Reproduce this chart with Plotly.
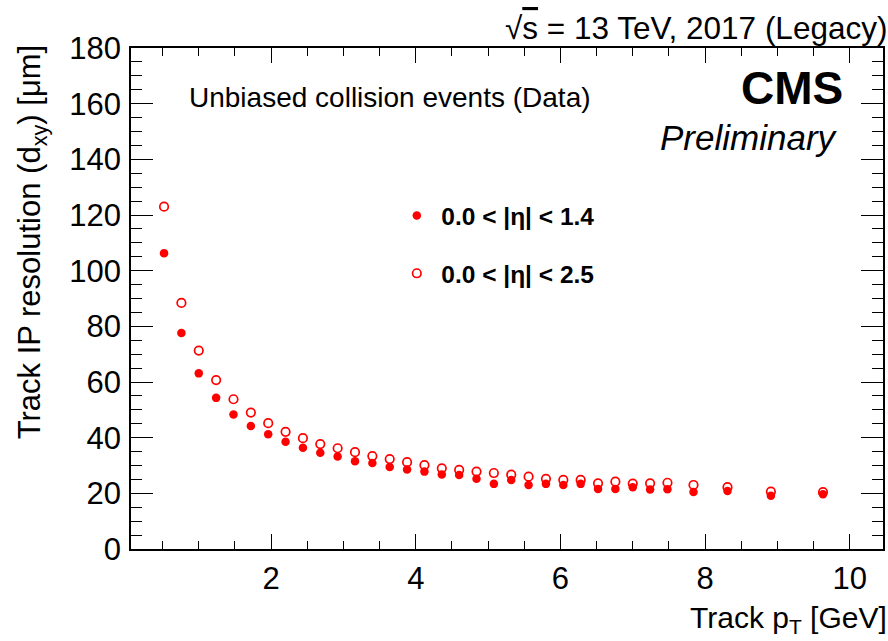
import plotly.graph_objects as go

# ---- data ----
pt = [0.52, 0.76, 1.00, 1.24, 1.48, 1.72, 1.96, 2.20, 2.44, 2.68, 2.92, 3.16, 3.40,
      3.64, 3.88, 4.12, 4.36, 4.60, 4.84, 5.08, 5.32, 5.56, 5.80, 6.04, 6.28, 6.52,
      6.76, 7.00, 7.24, 7.48, 7.84, 8.31, 8.91, 9.63]
res_eta14 = [106.3, 77.6, 63.1, 54.3, 48.3, 44.2, 41.2, 38.5, 36.4, 34.6, 33.2, 31.5,
             30.9, 29.5, 28.6, 27.8, 26.8, 26.6, 25.2, 23.4, 24.8, 23.0, 23.4, 23.0,
             23.4, 21.6, 21.6, 22.2, 21.4, 21.5, 20.5, 20.8, 19.1, 19.7]
res_eta25 = [123.0, 88.4, 71.3, 60.7, 53.8, 49.0, 45.2, 42.1, 39.8, 37.7, 36.2, 34.8,
             33.4, 32.3, 31.2, 30.1, 29.0, 28.4, 27.8, 27.3, 26.7, 26.0, 25.2, 24.8,
             24.8, 23.6, 24.2, 23.5, 23.6, 23.8, 23.0, 22.2, 20.6, 20.4]
x_ticks = [2, 4, 6, 8, 10]
y_ticks = [0, 20, 40, 60, 80, 100, 120, 140, 160, 180]

W, H = 888, 641
L, R, T, B = 131, 885, 48, 549
FONT = "Liberation Sans, Arial, Helvetica, sans-serif"
RED = "#ff0000"


def px(x):
    return (x - L) / (R - L)


def py(y):
    return (B - y) / (B - T)


fig = go.Figure()
fig.add_trace(go.Scatter(
    x=pt, y=res_eta14, mode="markers", name="<b>0.0 < |η| < 1.4</b>",
    legendgroup="a",
    marker=dict(symbol="circle", size=8.5, color=RED, line=dict(width=0))))
fig.add_trace(go.Scatter(
    x=pt, y=res_eta25, mode="markers", name="<b>0.0 < |η| < 2.5</b>",
    legendgroup="b",
    marker=dict(symbol="circle-open", size=8.5, color=RED, line=dict(width=1.7, color=RED))))

axis_common = dict(
    showline=True, linecolor="black", linewidth=1.6, mirror="allticks",
    ticks="inside", tickcolor="black", tickwidth=1.3, showgrid=False, zeroline=False,
    tickfont=dict(family=FONT, size=31, color="black"),
)

fig.update_xaxes(
    range=[0.063, 10.46], tickvals=x_ticks, ticktext=[str(v) for v in x_ticks],
    ticklen=15, ticklabelstandoff=1,
    minor=dict(dtick=0.5, tick0=0, ticks="inside", ticklen=8, tickcolor="black",
               tickwidth=1.3, showgrid=False),
    **axis_common)
fig.update_yaxes(
    range=[0, 180], tickvals=y_ticks, ticktext=[str(v) for v in y_ticks],
    ticklen=22, ticklabelstandoff=2,
    minor=dict(dtick=5, tick0=0, ticks="inside", ticklen=11, tickcolor="black",
               tickwidth=1.3, showgrid=False),
    **axis_common)

ann = []
ann.append(dict(text="√<span style='text-decoration:overline'>s</span> = 13 TeV, 2017 (Legacy)",
                x=px(891), y=py(28), xanchor="right", yanchor="middle",
                font=dict(family=FONT, size=31.5, color="black")))
ann.append(dict(text="<b>CMS</b>", x=px(847), y=py(88), xanchor="right", yanchor="middle",
                font=dict(family=FONT, size=46, color="black")))
ann.append(dict(text="<i>Preliminary</i>", x=px(842), y=py(137), xanchor="right",
                yanchor="middle", font=dict(family=FONT, size=35, color="black")))
ann.append(dict(text="Unbiased collision events (Data)", x=px(187), y=py(98),
                xanchor="left", yanchor="middle",
                font=dict(family=FONT, size=28, color="black")))
ann.append(dict(text="Track p<sub>T</sub> [GeV]", x=px(891), y=py(619), xanchor="right",
                yanchor="middle", font=dict(family=FONT, size=30, color="black")))
ann.append(dict(text="Track IP resolution (d<sub>xy</sub>) [μm]", x=px(32), y=py(43),
                xanchor="center", yanchor="top", textangle=-90,
                font=dict(family=FONT, size=31, color="black")))
for a in ann:
    a.update(xref="paper", yref="paper", showarrow=False)

fig.update_layout(
    width=W, height=H,
    margin=dict(l=L, r=W - R, t=T, b=H - B, pad=0),
    paper_bgcolor="white", plot_bgcolor="white",
    annotations=ann,
    showlegend=True,
    legend=dict(x=px(393), y=py(193), xanchor="left", yanchor="top",
                bgcolor="rgba(0,0,0,0)", borderwidth=0, itemwidth=39,
                tracegroupgap=23,
                font=dict(family=FONT, size=24.5, color="black")),
)

fig.write_html("out.html")
